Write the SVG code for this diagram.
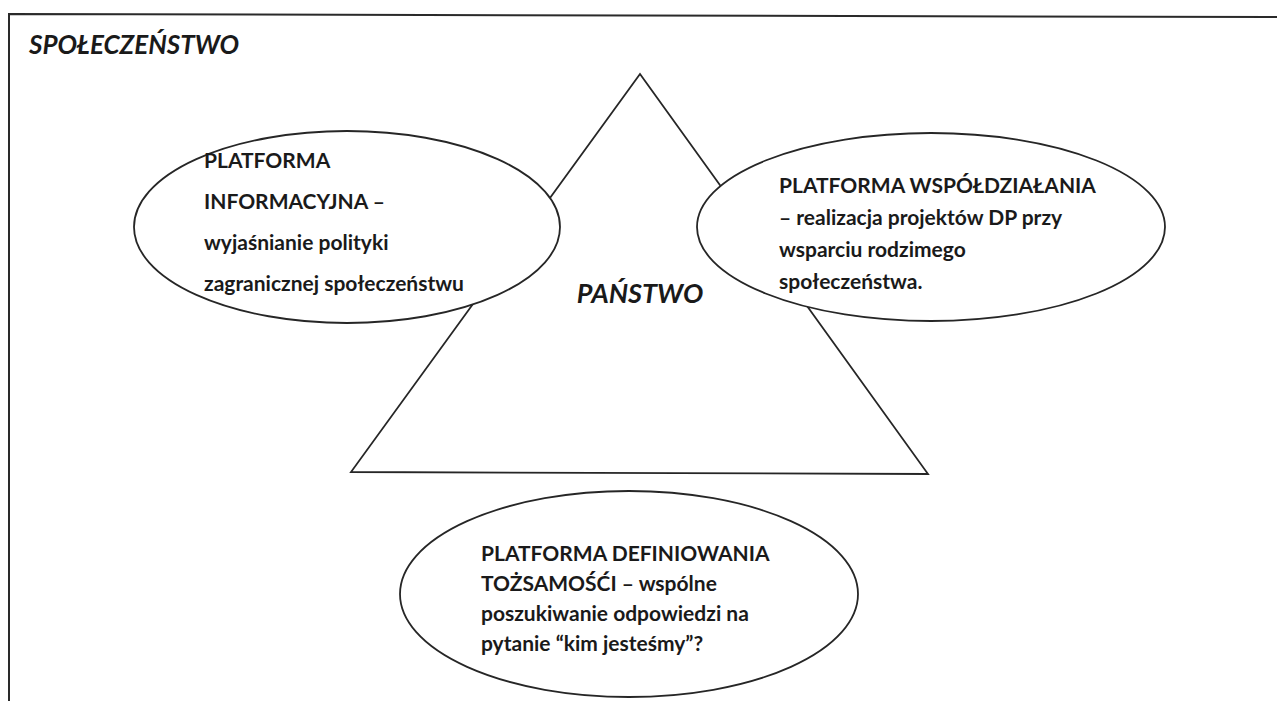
<svg xmlns="http://www.w3.org/2000/svg" width="1277" height="701" viewBox="0 0 1277 701">
<style>
.frame{fill:none;stroke:#2a2a2a;stroke-width:2}
.shape{fill:#fff;stroke:#262626;stroke-width:1.8}
.tri{fill:none;stroke:#262626;stroke-width:1.8}
.t{font-family:Lato,"Liberation Sans",sans-serif;font-weight:bold;font-size:21px;fill:#1a1a1a}
.h{font-family:Lato,"Liberation Sans",sans-serif;font-weight:bold;font-style:italic;font-size:26px;fill:#1a1a1a}
</style>
<rect width="1277" height="701" fill="#fff"/>
<g id="frame">
<path class="frame" d="M9,701 L9,14 L1277,17"/>
<text class="h" x="29" y="54">SPOŁECZEŃSTWO</text>
</g>
<g id="panstwo">
<path class="tri" d="M640,74 L928,474 L351,472 Z"/>
<text class="h" x="640" y="303" text-anchor="middle" style="font-size:27px">PAŃSTWO</text>
</g>
<g id="connectors"></g>
<g id="platforma-informacyjna">
<ellipse class="shape" cx="347" cy="227" rx="213" ry="96"/>
<text class="t" x="204"><tspan x="204" y="168">PLATFORMA</tspan><tspan x="204" y="209">INFORMACYJNA –</tspan><tspan x="204" y="250">wyjaśnianie polityki</tspan><tspan x="204" y="291">zagranicznej społeczeństwu</tspan></text>
</g>
<g id="platforma-wspoldzialania">
<ellipse class="shape" cx="931" cy="227" rx="234" ry="94"/>
<text class="t" x="779"><tspan x="779" y="193">PLATFORMA WSPÓŁDZIAŁANIA</tspan><tspan x="779" y="225">– realizacja projektów DP przy</tspan><tspan x="779" y="257">wsparciu rodzimego</tspan><tspan x="779" y="289">społeczeństwa.</tspan></text>
</g>
<g id="platforma-definiowania">
<ellipse class="shape" cx="629" cy="594" rx="229" ry="103"/>
<text class="t" x="481"><tspan x="481" y="561">PLATFORMA DEFINIOWANIA</tspan><tspan x="481" y="591">TOŻSAMOŚĆI – wspólne</tspan><tspan x="481" y="621">poszukiwanie odpowiedzi na</tspan><tspan x="481" y="651">pytanie “kim jesteśmy”?</tspan></text>
</g>
</svg>
